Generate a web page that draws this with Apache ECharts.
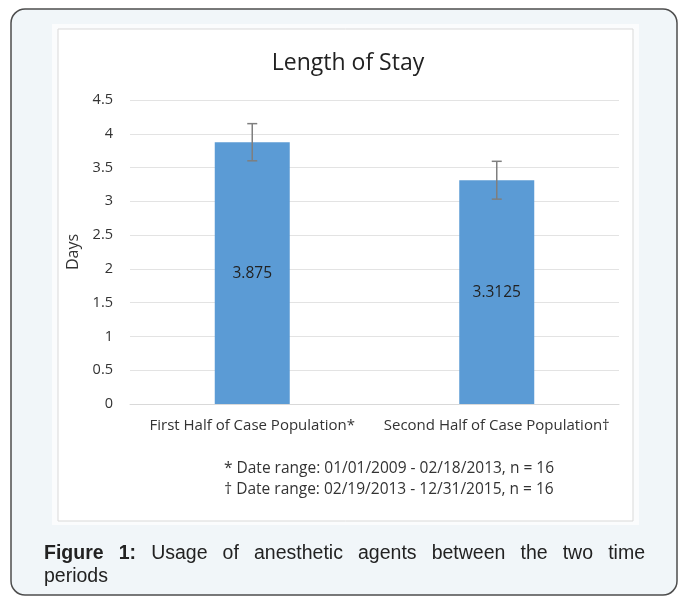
<!DOCTYPE html>
<html><head><meta charset="utf-8">
<script src="https://cdn.jsdelivr.net/npm/echarts@6/dist/echarts.min.js"></script>
<style>html,body{margin:0;padding:0;background:#fff}#c{width:681px;height:599px}</style>
</head><body><div id="c"></div>
<script>
// ---- data ----
const categories = ['First Half of Case Population*', 'Second Half of Case Population\u2020'];
const values = [3.875, 3.3125];
const errors = [0.275, 0.28];
const yMin = 0, yMax = 4.5, yStep = 0.5;
const titleText = 'Length of Stay';
const yName = 'Days';
const footnotes = ['* Date range: 01/01/2009 - 02/18/2013, n = 16', '\u2020 Date range: 02/19/2013 - 12/31/2015, n = 16'];
const captionLine1 = ['Figure', '1:', 'Usage', 'of', 'anesthetic', 'agents', 'between', 'the', 'two', 'time'];
const captionBoldCount = 2;
const captionLine2 = 'periods';

// ---- layout helpers ----
const capFont = '19.5px "Liberation Sans", Arial, sans-serif';
const capBold = 'bold 19.5px "Liberation Sans", Arial, sans-serif';
function justify(words, boldCount, x0, x1) {
  const ctx = document.createElement('canvas').getContext('2d');
  const w = words.map((t, i) => { ctx.font = i < boldCount ? capBold : capFont; return ctx.measureText(t).width; });
  const total = w.reduce((a, b) => a + b, 0);
  const gap = (x1 - x0 - total) / (words.length - 1);
  let x = x0;
  return words.map((t, i) => { const r = { t, x, bold: i < boldCount }; x += w[i] + gap; return r; });
}
const capWords = justify(captionLine1, captionBoldCount, 44, 645);

const graphics = [
  { type: 'rect', z: -10, shape: { x: 11, y: 9, width: 666, height: 586, r: 14 },
    style: { fill: '#f1f6f9', stroke: '#4d4d4d', lineWidth: 1.5 } },
  { type: 'rect', z: -9, shape: { x: 52, y: 24, width: 587, height: 501 }, style: { fill: '#fbfcfd' } },
  { type: 'rect', z: -8, shape: { x: 58, y: 29, width: 575, height: 492 },
    style: { fill: '#ffffff', stroke: '#d9d9d9', lineWidth: 1 } },
  { type: 'text', z: 10, style: { x: 389, y: 479.5, text: footnotes.join('\n'), align: 'center', verticalAlign: 'middle',
    font: '15.5px "Open Sans", sans-serif', lineHeight: 21, fill: '#333' } },
  { type: 'text', z: 10, style: { x: 44, y: 577, text: captionLine2, verticalAlign: 'middle',
    font: capFont, fill: '#222' } }
];
capWords.forEach(o => graphics.push({ type: 'text', z: 10,
  style: { x: o.x, y: 554, text: o.t, verticalAlign: 'middle', font: o.bold ? capBold : capFont, fill: '#222' } }));

const chart = echarts.init(document.getElementById('c'), null, { renderer: 'canvas' });
chart.setOption({
  animation: false,
  backgroundColor: '#ffffff',
  title: {
    text: titleText, left: 343, top: 47, textAlign: 'center',
    textStyle: { fontFamily: 'Open Sans', fontSize: 23, fontWeight: 'normal', color: '#222' }
  },
  grid: { left: 130, right: 62, top: 100, bottom: 195, containLabel: false },
  xAxis: {
    type: 'category', data: categories,
    axisLine: { lineStyle: { color: '#d9d9d9', width: 1 } },
    axisTick: { show: false },
    axisLabel: { margin: 14, fontFamily: 'Open Sans', fontSize: 15, color: '#333', interval: 0 }
  },
  yAxis: {
    type: 'value', min: yMin, max: yMax, interval: yStep,
    name: yName, nameLocation: 'middle', nameGap: 45, nameRotate: 90,
    nameTextStyle: { fontFamily: 'Open Sans', fontSize: 16, color: '#333' },
    axisLine: { show: false }, axisTick: { show: false },
    axisLabel: { margin: 17, fontFamily: 'Open Sans', fontSize: 14.5, color: '#333' },
    splitLine: { lineStyle: { color: '#e3e3e3', width: 1 } }
  },
  graphic: graphics,
  series: [
    {
      type: 'bar', data: values, barWidth: 75,
      itemStyle: { color: '#5b9bd5' },
      label: { show: true, position: 'inside', fontFamily: 'Open Sans', fontSize: 15.5, color: '#222',
        formatter: p => String(p.value) }
    },
    {
      type: 'custom', z: 5,
      data: categories.map((c, i) => [i, values[i] - errors[i], values[i] + errors[i]]),
      renderItem: (params, api) => {
        const lo = api.coord([api.value(0), api.value(1)]);
        const hi = api.coord([api.value(0), api.value(2)]);
        const hw = 5, st = { stroke: '#7f7f7f', lineWidth: 1.5 };
        return { type: 'group', children: [
          { type: 'line', shape: { x1: hi[0], y1: hi[1], x2: lo[0], y2: lo[1] }, style: st },
          { type: 'line', shape: { x1: hi[0] - hw, y1: hi[1], x2: hi[0] + hw, y2: hi[1] }, style: st },
          { type: 'line', shape: { x1: lo[0] - hw, y1: lo[1], x2: lo[0] + hw, y2: lo[1] }, style: st }
        ] };
      }
    }
  ]
});
</script></body></html>
